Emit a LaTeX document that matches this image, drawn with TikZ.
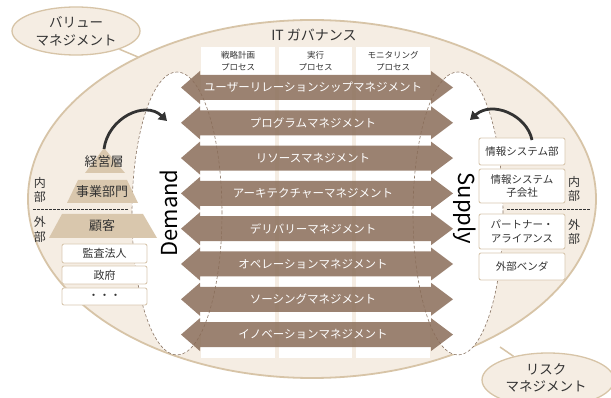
\documentclass[tikz,border=0pt]{standalone}
\usepackage{fontspec}
\setmainfont{Noto Sans CJK JP}
\usetikzlibrary{arrows.meta,shapes.geometric}
\definecolor{ellfill}{HTML}{F5EDE3}
\definecolor{elledge}{HTML}{D7C4A7}
\definecolor{arrowc}{HTML}{8A6D59}
\definecolor{pyr}{HTML}{D9C7AD}
\definecolor{boxedge}{HTML}{D9C8B0}
\definecolor{dashcol}{HTML}{8C7766}
\definecolor{txt}{HTML}{333333}
\tikzset{
  smallell/.style={ellipse, draw=elledge, fill=ellfill, line width=1.3pt, inner sep=0pt},
  ellline/.style={draw=elledge, line width=1.5pt},
  lens/.style={fill=white, draw=dashcol, line width=0.6pt, dash pattern=on 3pt off 2pt},
  band/.style={fill=arrowc, fill opacity=0.85},
  bandtxt/.style={text=white, font=\fontsize{11.5}{13}\selectfont},
  hdr/.style={text=txt, align=center, font=\fontsize{8.5}{11.5}\selectfont},
  pyrtxt/.style={text=txt, font=\fontsize{13}{15}\selectfont},
  wbox/.style={draw=boxedge, fill=white, line width=0.9pt, rounded corners=2pt},
  boxtxt/.style={text=txt, align=center, font=\fontsize{11}{13.5}\selectfont},
  sidetxt/.style={text=txt, align=center, font=\fontsize{12}{14.5}\selectfont},
  sep/.style={draw=txt, line width=0.9pt, dash pattern=on 2.5pt off 1.5pt},
  curved/.style={draw=txt, line width=2.8pt, -{Triangle[length=8pt,width=10pt]}}
}
\begin{document}
\begin{tikzpicture}[x=1pt,y=-1pt]
\useasboundingbox (0,0) rectangle (611,398);
\fill[white] (0,0) rectangle (611,398);
% big ellipse
\draw[fill=ellfill, draw=elledge, line width=1.8pt] (312,199) ellipse [x radius=284pt, y radius=179pt];
% connectors to side ellipses
\coordinate (vEnd) at (138,57);
\coordinate (rEnd) at (500,347);
\node[smallell, minimum width=128pt, minimum height=48pt] (value) at (76,31) {};
\node[smallell, minimum width=132pt, minimum height=54pt] (risk) at (548,380) {};
\draw[ellline] (value) -- (vEnd);
\draw[ellline] (risk) -- (rEnd);
\node[text=txt, align=center, font=\fontsize{13.5}{18}\selectfont] (valuet) at (76,31) {バリュー\\マネジメント};
\node[text=txt, align=center, font=\fontsize{13.5}{17}\selectfont] (riskt) at (546,378) {リスク\\マネジメント};
% white columns
\fill[white] (201,47) rectangle (275,358);
\fill[white] (279,47) rectangle (352,358);
\fill[white] (356,47) rectangle (430,358);
% lenses
\draw[lens] (177,213.5) ellipse [x radius=45pt, y radius=141.5pt];
\draw[lens] (458,213.5) ellipse [x radius=45pt, y radius=141.5pt];
% title and headers
\node[text=txt, font=\fontsize{14}{16}\selectfont] (title) at (314,35) {IT ガバナンス};
\node[hdr] (h1) at (238,61) {戦略計画\\プロセス};
\node[hdr] (h2) at (315.5,61) {実行\\プロセス};
\node[hdr] (h3) at (393,61) {モニタリング\\プロセス};
% bands
\foreach \i/\t in {0/ユーザーリレーションシップマネジメント,1/プログラムマネジメント,2/リソースマネジメント,3/アーキテクチャーマネジメント,4/デリバリーマネジメント,5/オペレーションマネジメント,6/ソーシングマネジメント,7/イノベーションマネジメント}{
  \pgfmathsetmacro{\yc}{87.5+35.3*\i}
  \fill[band] (181,\yc) -- (200,\yc-16.5) -- (200,\yc-12.5) -- (431,\yc-12.5) -- (431,\yc-16.5) -- (453,\yc) -- (431,\yc+16.5) -- (431,\yc+12.5) -- (200,\yc+12.5) -- (200,\yc+16.5) -- cycle;
  \node[bandtxt] (b\i) at (313,\yc) {\t};
}
% Demand / Supply
\node[rotate=90, text=black, font=\fontsize{22}{24}\selectfont] (demand) at (169,213) {Demand};
\node[rotate=-90, text=black, font=\fontsize{22}{24}\selectfont] (supply) at (465,208.5) {Supply};
% pyramid
\fill[pyr] (104,148) -- (125,173) -- (85,173) -- cycle;
\fill[pyr] (78,180) -- (127,180) -- (138,203) -- (67,203) -- cycle;
\fill[pyr] (62,214) -- (143,214) -- (157,238) -- (49,238) -- cycle;
\node[pyrtxt] (p1) at (104,162) {経営層};
\node[pyrtxt] (p2) at (102,192) {事業部門};
\node[pyrtxt] (p3) at (102,226) {顧客};
\draw[sep] (33,209) -- (128,209);
\node[wbox, minimum width=85pt, minimum height=19pt] (l1) at (104.5,253.5) {};
\node[boxtxt] at (l1) {監査法人};
\node[wbox, minimum width=85pt, minimum height=18pt] (l2) at (104.5,275) {};
\node[boxtxt] at (l2) {政府};
\node[wbox, minimum width=85pt, minimum height=17pt] (l3) at (104.5,296.5) {};
\node[boxtxt] at (l3) {・・・};
\node[sidetxt] (lin) at (40,190) {内\\部};
\node[sidetxt] (lout) at (40,229.5) {外\\部};
% right boxes
\node[wbox, minimum width=86pt, minimum height=27pt] (r1) at (522,151.5) {};
\node[boxtxt, font=\fontsize{10.5}{13.5}\selectfont] at (r1) {情報システム部};
\node[wbox, minimum width=86pt, minimum height=34pt] (r2) at (522,186) {};
\node[boxtxt, font=\fontsize{10.5}{13.5}\selectfont] at (r2) {情報システム\\子会社};
\node[wbox, minimum width=86pt, minimum height=35pt] (r3) at (522,231.5) {};
\node[boxtxt, font=\fontsize{10.5}{13.5}\selectfont] at (r3) {パートナー・\\アライアンス};
\node[wbox, minimum width=86pt, minimum height=27pt] (r4) at (522,266.5) {};
\node[boxtxt, font=\fontsize{10.5}{13.5}\selectfont] at (r4) {外部ベンダ};
\draw[sep] (507,209) -- (590,209);
\node[sidetxt] (rin) at (574,189) {内\\部};
\node[sidetxt] (rout) at (574,232) {外\\部};
% curved arrows
\coordinate (la) at (104,149);
\coordinate (lb) at (167,121);
\coordinate (ra) at (532,140);
\coordinate (rb) at (470,120);
\draw[curved] (la) .. controls (108,118) and (145,100) .. (lb);
\draw[curved] (ra) .. controls (527,115) and (492,100) .. (rb);
\end{tikzpicture}
\end{document}
